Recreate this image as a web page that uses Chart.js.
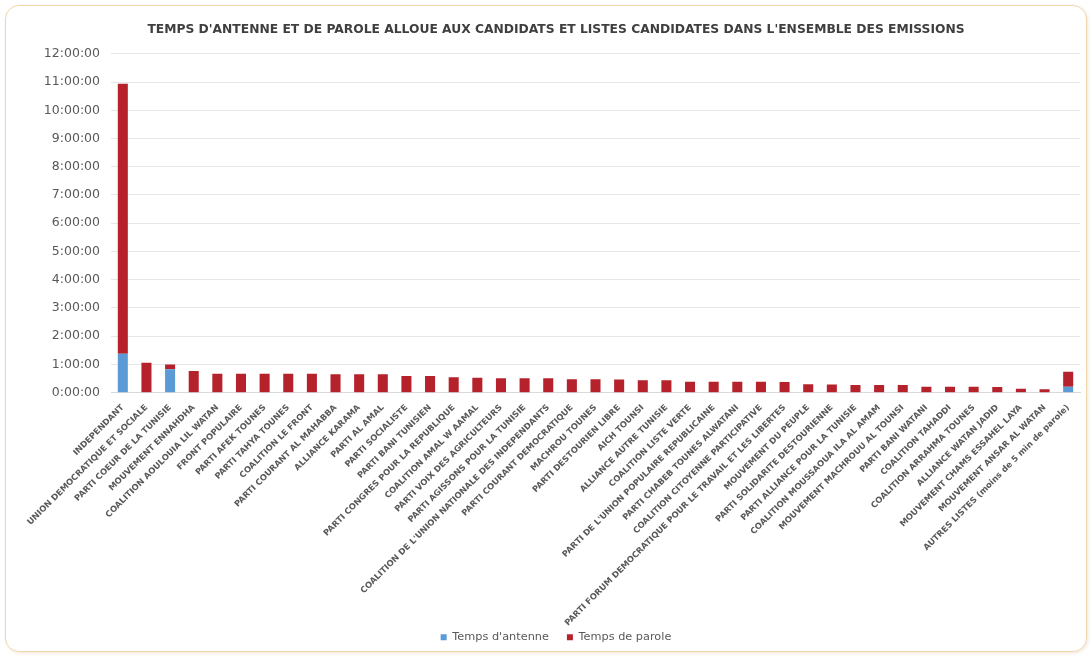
<!DOCTYPE html>
<html>
<head>
<meta charset="utf-8">
<script src="https://cdn.jsdelivr.net/npm/chart.js@4"></script>
<style>
  html, body { margin: 0; padding: 0; background: #ffffff; }
  #frame { position: absolute; left: 5px; top: 5px; width: 1080px; height: 645px;
           border: 1.5px solid #f1d6ad; border-radius: 14px; box-shadow: 1px 1px 3px rgba(210,180,140,0.35); }
  #c { position: absolute; left: 0; top: 0; }
</style>
</head>
<body>
<div id="frame"></div>
<canvas id="c" width="1092" height="658"></canvas>
<script>
const categories = [
  "INDEPENDANT",
  "UNION DEMOCRATIQUE ET SOCIALE",
  "PARTI COEUR DE LA TUNISIE",
  "MOUVEMENT ENNAHDHA",
  "COALITION AOULOUIA LIL WATAN",
  "FRONT POPULAIRE",
  "PARTI AFEK TOUNES",
  "PARTI TAHYA TOUNES",
  "COALITION LE FRONT",
  "PARTI COURANT AL MAHABBA",
  "ALLIANCE KARAMA",
  "PARTI AL AMAL",
  "PARTI SOCIALISTE",
  "PARTI BANI TUNISIEN",
  "PARTI CONGRES POUR LA REPUBLIQUE",
  "COALITION AMAL W AAMAL",
  "PARTI VOIX DES AGRICULTEURS",
  "PARTI AGISSONS POUR LA TUNISIE",
  "COALITION DE L'UNION NATIONALE DES INDEPENDANTS",
  "PARTI COURANT DEMOCRATIQUE",
  "MACHROU TOUNES",
  "PARTI DESTOURIEN LIBRE",
  "AICH TOUNSI",
  "ALLIANCE AUTRE TUNISIE",
  "COALITION LISTE VERTE",
  "PARTI DE L'UNION POPULAIRE REPUBLICAINE",
  "PARTI CHABEB TOUNES ALWATANI",
  "COALITION CITOYENNE PARTICIPATIVE",
  "PARTI FORUM DEMOCRATIQUE POUR LE TRAVAIL ET LES LIBERTES",
  "MOUVEMENT DU PEUPLE",
  "PARTI SOLIDARITE DESTOURIENNE",
  "PARTI ALLIANCE POUR LA TUNISIE",
  "COALITION MOUSSAOUA ILA AL AMAM",
  "MOUVEMENT MACHROUU AL TOUNSI",
  "PARTI BANI WATANI",
  "COALITION TAHADDI",
  "COALITION ARRAHMA TOUNES",
  "ALLIANCE WATAN JADID",
  "MOUVEMENT CHAMS ESSAHEL LAYA",
  "MOUVEMENT ANSAR AL WATAN",
  "AUTRES LISTES (moins de 5 min de parole)"
];

// values in hours
const tempsAntenne = [
  1.38, 0, 0.83, 0, 0, 0, 0, 0, 0, 0,
  0, 0, 0, 0, 0, 0, 0, 0, 0, 0,
  0, 0, 0, 0, 0, 0, 0, 0, 0, 0,
  0, 0, 0, 0, 0, 0, 0, 0, 0, 0,
  0.21
];
const tempsParole = [
  9.56, 1.06, 0.17, 0.77, 0.67, 0.67, 0.67, 0.67, 0.67, 0.65,
  0.65, 0.65, 0.59, 0.59, 0.55, 0.53, 0.51, 0.51, 0.51, 0.48,
  0.48, 0.47, 0.44, 0.44, 0.39, 0.39, 0.39, 0.39, 0.38, 0.30,
  0.29, 0.27, 0.27, 0.27, 0.21, 0.21, 0.21, 0.20, 0.14, 0.12,
  0.53
];
const seriesNames = ["Temps d'antenne", "Temps de parole"];
const titleText = "TEMPS D'ANTENNE ET DE PAROLE ALLOUE AUX CANDIDATS ET LISTES CANDIDATES DANS L'ENSEMBLE DES EMISSIONS";
const yMin = 0, yMax = 12, yStep = 1;

function fmtHour(v) { return Math.round(v) + ":00:00"; }

new Chart(document.getElementById('c'), {
  type: 'bar',
  data: {
    labels: categories,
    datasets: [
      { label: seriesNames[0], data: tempsAntenne, backgroundColor: '#5b9bd5', borderWidth: 0,
        barPercentage: 0.5, categoryPercentage: 0.85 },
      { label: seriesNames[1], data: tempsParole, backgroundColor: '#b5222b', borderWidth: 0,
        barPercentage: 0.5, categoryPercentage: 0.85 }
    ]
  },
  options: {
    responsive: false,
    animation: false,
    layout: { padding: { left: 32, right: 12, top: 0, bottom: 5 } },
    plugins: {
      title: {
        display: true, text: titleText, color: '#3f3f3f',
        font: { family: 'DejaVu Sans', size: 12.3, weight: 'bold' },
        padding: { top: 22, bottom: 17 }
      },
      legend: {
        position: 'bottom',
        labels: {
          color: '#595959', boxWidth: 6, boxHeight: 6, padding: 18,
          font: { family: 'DejaVu Sans', size: 11.3 }
        }
      },
      tooltip: { enabled: false }
    },
    scales: {
      x: {
        stacked: true,
        grid: { display: false },
        border: { color: '#d9d9d9' },
        ticks: {
          autoSkip: false, maxRotation: 45, minRotation: 45, padding: 2,
          color: '#595959', font: { family: 'DejaVu Sans', size: 8.4, weight: 'bold' }
        },
        afterFit: function (s) {
          s.height = 221;
          s._computeLabelArea = function () { return undefined; };
        }
      },
      y: {
        stacked: true, min: yMin, max: yMax,
        grid: { color: '#e6e6e6', drawTicks: false },
        border: { display: false },
        ticks: {
          stepSize: yStep, padding: 11, color: '#595959',
          font: { family: 'DejaVu Sans', size: 12.5 },
          callback: function (v) { return fmtHour(v); }
        },
        afterFit: function (s) { s.width = 79; }
      }
    }
  }
});
</script>
</body>
</html>
